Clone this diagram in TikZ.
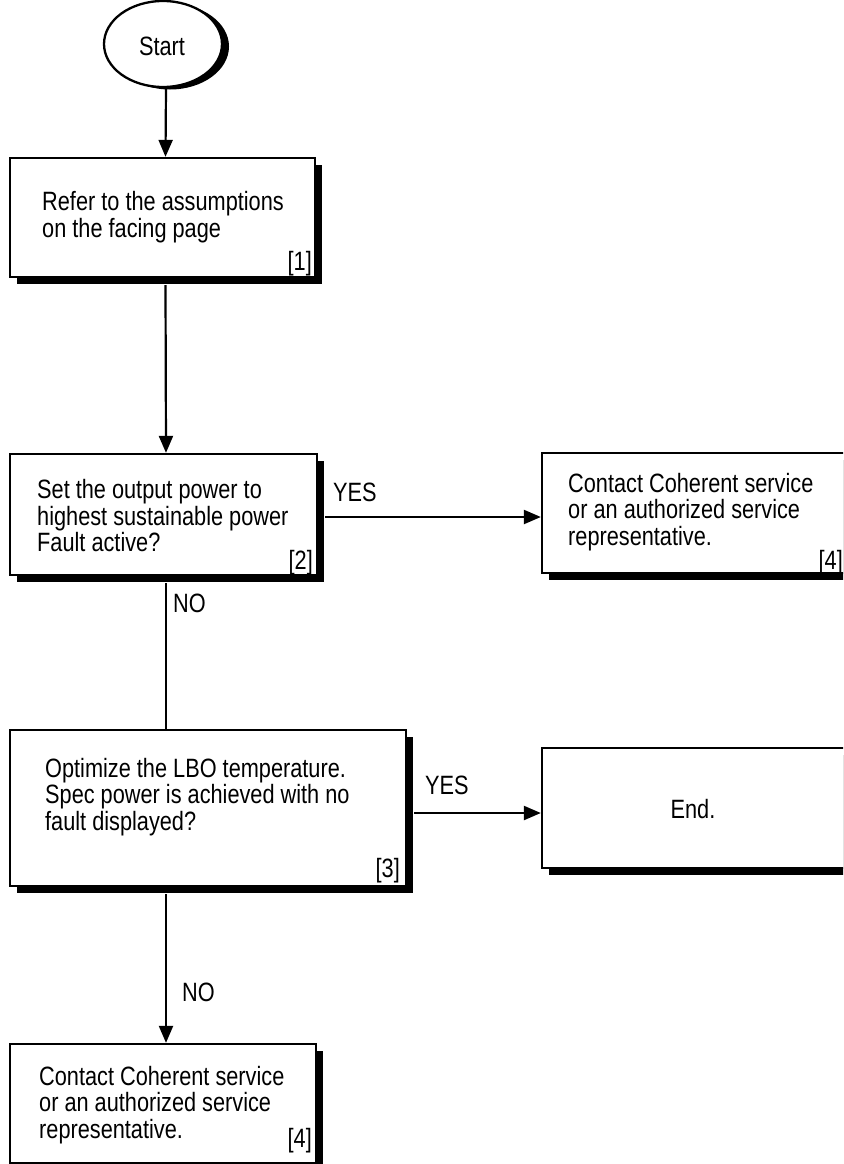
\documentclass[tikz,border=0pt]{standalone}
\usepackage{fontspec}
\setmainfont{Liberation Sans}[FakeStretch=0.82]
\usetikzlibrary{shadows,arrows.meta,shapes.geometric}
\tikzset{
  x=1pt, y=-1pt,
  txt/.style={font=\fontsize{26.5}{26.5}\selectfont, inner sep=0pt, align=left},
  boxstyle/.style={draw=black, line width=2.3pt, fill=white, rectangle, inner sep=0pt,
    drop shadow={shadow xshift=7pt, shadow yshift=-7pt, opacity=1, fill=black}},
  ovalstyle/.style={draw=black, line width=2.3pt, fill=white, ellipse, inner sep=0pt,
    drop shadow={shadow xshift=7pt, shadow yshift=-2.5pt, opacity=1, fill=black}},
  conn/.style={line width=2.2pt},
  arr/.style={line width=2.2pt, -{Triangle[length=17pt,width=14pt]}}
}
\begin{document}
\begin{tikzpicture}
\clip (0,0) rectangle (843,1164);
\fill[white] (0,0) rectangle (843,1164);

% shapes
\node[ovalstyle, minimum width=118pt, minimum height=86pt] (start) at (163,44) {};
\node[boxstyle, minimum width=305pt, minimum height=119pt] (b1) at (162.5,217.5) {};
\node[boxstyle, minimum width=307pt, minimum height=121pt] (b2) at (163.5,514.5) {};
\node[boxstyle, minimum width=304pt, minimum height=120pt] (b4a) at (694,513) {};
\node[boxstyle, minimum width=396pt, minimum height=156pt] (b3) at (208,808) {};
\node[boxstyle, minimum width=304pt, minimum height=120pt] (end) at (694,808) {};
\node[boxstyle, minimum width=306pt, minimum height=119pt] (b4b) at (163,1103.5) {};

% texts
\node[txt] (tstart) at (162,46) {Start};
\node[txt, anchor=west] (t1) at (42,217) {Refer to the assumptions\\on the facing page};
\node[txt, anchor=north east] (n1) at (312,251) {[1]};
\node[txt, anchor=west] (t2) at (37,516) {Set the output power to\\highest sustainable power\\Fault active?};
\node[txt, anchor=north east] (n2) at (313,550) {[2]};
\node[txt, anchor=west] (t4a) at (568,512) {Contact Coherent service\\or an authorized service\\representative.};
\node[txt, anchor=north east] (n4a) at (843,550) {[4]};
\node[txt, anchor=west] (t3) at (45,797) {Optimize the LBO temperature.\\Spec power is achieved with no\\fault displayed?};
\node[txt, anchor=north east] (n3) at (400,858) {[3]};
\node[txt] (tend) at (693,809) {End.};
\node[txt, anchor=west] (t4b) at (39,1105) {Contact Coherent service\\or an authorized service\\representative.};
\node[txt, anchor=north east] (n4b) at (312,1128) {[4]};

% labels
\node[txt, anchor=west] (yes1) at (333,492) {YES};
\node[txt, anchor=west] (no1) at (173,603) {NO};
\node[txt, anchor=west] (yes2) at (425,785) {YES};
\node[txt, anchor=west] (no2) at (182,992) {NO};

% connectors
\draw[arr] ([xshift=3pt]start.south) -- ([xshift=3pt]b1.north);
\draw[arr] ([xshift=3pt,yshift=-7pt]b1.south) -- ([xshift=2.5pt]b2.north);
\draw[conn] ([xshift=2.5pt,yshift=-7pt]b2.south) -- ([xshift=-42pt]b3.north);
\draw[arr] ([xshift=-42pt,yshift=-7pt]b3.south) -- ([xshift=3pt]b4b.north);
\draw[arr] ([xshift=7pt,yshift=-2.5pt]b2.east) -- ([yshift=-4pt]b4a.west);
\draw[arr] ([xshift=7pt,yshift=-5pt]b3.east) -- ([yshift=-5pt]end.west);
\end{tikzpicture}
\end{document}
